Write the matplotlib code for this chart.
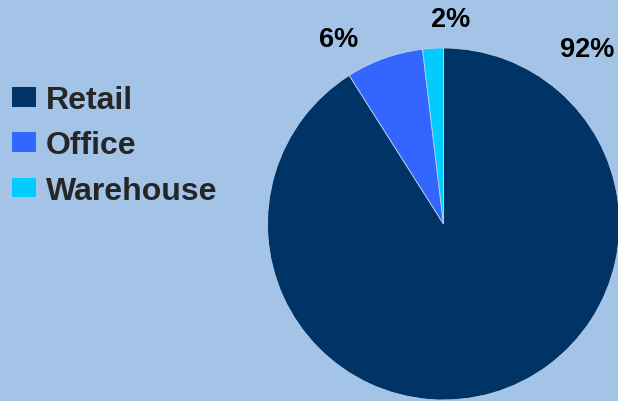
import matplotlib
matplotlib.use("Agg")
import matplotlib.pyplot as plt

categories = ["Retail", "Office", "Warehouse"]
values = [91.0, 7.1, 1.9]
pct_labels = ["92%", "6%", "2%"]
colors = ["#003366", "#3366FF", "#00CCFF"]
bg = "#A3C3E7"

W, H = 618, 402
fig = plt.figure(figsize=(W / 100, H / 100), dpi=100, facecolor=bg)
plt.rcParams["font.family"] = ["Liberation Sans", "DejaVu Sans"]

cx, cy, r = 443.5, 225, 176
ax = fig.add_axes([(cx - r) / W, (H - cy - r) / H, 2 * r / W, 2 * r / H])
ax.set_facecolor(bg)
wedges, _ = ax.pie(values, colors=colors, startangle=90, counterclock=False,
                   radius=1, wedgeprops=dict(edgecolor="#B8D0EC", linewidth=0.6))
for w in wedges:
    w.set_clip_on(False)
ax.set_xlim(-1, 1)
ax.set_ylim(-1, 1)
ax.axis("off")

# percentage labels (positions in figure pixels, as in reference)
label_pos = [(587, 50), (339, 40), (451, 20)]
for txt, (x, y) in zip(pct_labels, label_pos):
    fig.text(x / W, 1 - y / H, txt, ha="center", va="center",
             fontsize=19.5, fontweight="bold", color="#000000")

leg = fig.legend(wedges, categories, loc="center left",
                 bbox_to_anchor=(12 / W, 1 - 146.5 / H), frameon=False,
                 prop=dict(size=23, weight="bold"), borderpad=0, borderaxespad=0,
                 handlelength=0.75, handleheight=0.56, handletextpad=0.32,
                 labelspacing=0.48, labelcolor="#262626")
for h in leg.legend_handles:
    h.set_edgecolor("none")

fig.savefig("out.png", dpi=100, facecolor=bg)
